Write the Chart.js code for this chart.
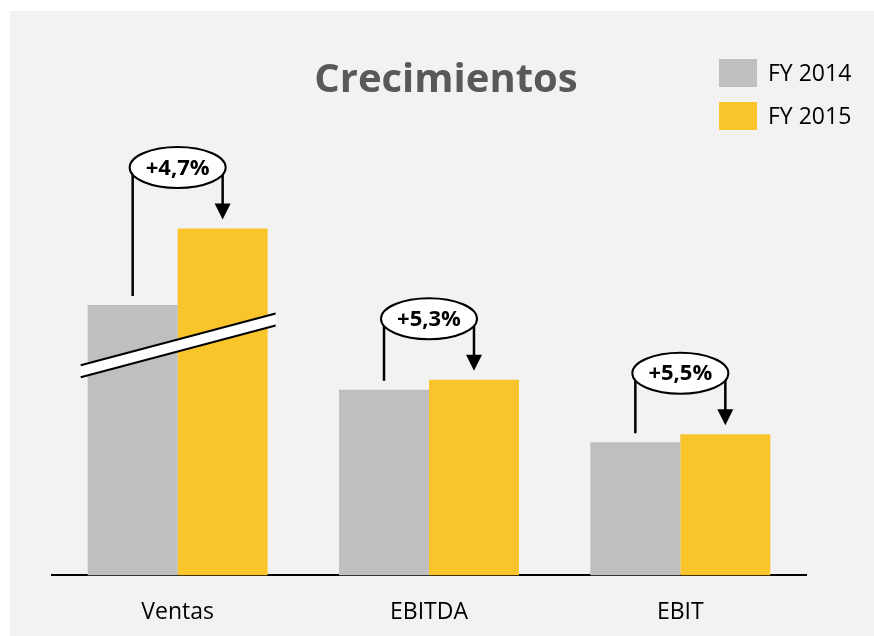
<!DOCTYPE html>
<html>
<head>
<meta charset="utf-8">
<script src="https://cdn.jsdelivr.net/npm/chart.js@4.4.1/dist/chart.umd.min.js"></script>
<style>
    html, body {
        margin: 0;
        padding: 0;
        background: #ffffff;
    }
    .chart-box {
        position: absolute;
        left: 10px;
        top: 11px;
        width: 864px;
        height: 625px;
        background: #f2f2f2;
    }
</style>
</head>
<body>
<div class="chart-box">
    <canvas id="growthChart"></canvas>
</div>
<script>
const categories = ['Ventas', 'EBITDA', 'EBIT'];
const seriesLabels = ['FY 2014', 'FY 2015'];
const fy2014 = [67, 46, 33];
const fy2015 = [86, 48.5, 35];
const growthLabels = ['+4,7%', '+5,3%', '+5,5%'];
const chartTitle = 'Crecimientos';

const GRAY = '#bfbfbf';
const YELLOW = '#f9c52b';

// corte del eje en la barra de Ventas
const axisBreak = {
    index: 0,
    value: 57,
    slope: -0.265,
    half: 6
};

const titleLegendPlugin = {
    id: 'titleLegend',
    afterDraw(chart) {
        const ctx = chart.ctx;
        ctx.save();

        ctx.fillStyle = '#595959';
        ctx.font = 'bold 40px "Open Sans"';
        ctx.textAlign = 'center';
        ctx.textBaseline = 'alphabetic';
        ctx.fillText(chartTitle, 436, 81);

        ctx.font = '23px "Open Sans"';
        ctx.textAlign = 'left';
        ctx.textBaseline = 'middle';

        chart.data.datasets.forEach((ds, i) => {
            const top = 48 + i * 43;
            ctx.fillStyle = ds.backgroundColor;
            ctx.fillRect(709, top, 38, 28);
            ctx.fillStyle = '#000000';
            ctx.fillText(ds.label, 758, top + 15);
        });

        ctx.restore();
    }
};

const growthPlugin = {
    id: 'growthMarks',
    afterDatasetsDraw(chart) {
        const ctx = chart.ctx;
        const prev = chart.getDatasetMeta(0).data;
        const curr = chart.getDatasetMeta(1).data;
        const xScale = chart.scales.x;
        const yScale = chart.scales.y;

        ctx.save();

        // corte
        const g0 = prev[axisBreak.index];
        const y0 = curr[axisBreak.index];
        const cx0 = xScale.getPixelForValue(axisBreak.index);
        const cy0 = yScale.getPixelForValue(axisBreak.value);
        const x1 = g0.x - g0.width / 2 - 7;
        const x2 = y0.x + y0.width / 2 + 8;
        const ya = cy0 + (x1 - cx0) * axisBreak.slope;
        const yb = cy0 + (x2 - cx0) * axisBreak.slope;

        ctx.fillStyle = '#ffffff';
        ctx.beginPath();
        ctx.moveTo(x1, ya - axisBreak.half);
        ctx.lineTo(x2, yb - axisBreak.half);
        ctx.lineTo(x2, yb + axisBreak.half);
        ctx.lineTo(x1, ya + axisBreak.half);
        ctx.closePath();
        ctx.fill();

        ctx.strokeStyle = '#000000';
        ctx.lineWidth = 2;
        ctx.beginPath();
        ctx.moveTo(x1, ya - axisBreak.half);
        ctx.lineTo(x2, yb - axisBreak.half);
        ctx.moveTo(x1, ya + axisBreak.half);
        ctx.lineTo(x2, yb + axisBreak.half);
        ctx.stroke();

        // flechas de crecimiento
        growthLabels.forEach((label, i) => {
            const g = prev[i];
            const y = curr[i];
            const cx = xScale.getPixelForValue(i);
            const ey = y.y - 61;

            ctx.strokeStyle = '#000000';
            ctx.lineWidth = 2.5;
            ctx.beginPath();
            ctx.moveTo(g.x, ey);
            ctx.lineTo(g.x, g.y - 9);
            ctx.moveTo(y.x, ey);
            ctx.lineTo(y.x, y.y - 24);
            ctx.stroke();

            ctx.fillStyle = '#000000';
            ctx.beginPath();
            ctx.moveTo(y.x - 8, y.y - 25);
            ctx.lineTo(y.x + 8, y.y - 25);
            ctx.lineTo(y.x, y.y - 9);
            ctx.closePath();
            ctx.fill();

            ctx.fillStyle = '#ffffff';
            ctx.lineWidth = 2;
            ctx.beginPath();
            ctx.ellipse(cx, ey, 48, 20.5, 0, 0, Math.PI * 2);
            ctx.fill();
            ctx.stroke();

            ctx.fillStyle = '#000000';
            ctx.font = 'bold 22px "Open Sans"';
            ctx.textAlign = 'center';
            ctx.textBaseline = 'middle';
            ctx.fillText(label, cx, ey + 1);
        });

        ctx.restore();
    }
};

const ctx = document.getElementById('growthChart').getContext('2d');

const growthChart = new Chart(ctx, {
    type: 'bar',
    data: {
        labels: categories,
        datasets: [{
            label: seriesLabels[0],
            data: fy2014,
            backgroundColor: GRAY,
            categoryPercentage: 0.716,
            barPercentage: 1.0
        }, {
            label: seriesLabels[1],
            data: fy2015,
            backgroundColor: YELLOW,
            categoryPercentage: 0.716,
            barPercentage: 1.0
        }]
    },
    options: {
        responsive: true,
        maintainAspectRatio: false,
        animation: false,
        layout: {
            padding: {
                left: 42,
                right: 68,
                top: 161,
                bottom: -13
            }
        },
        plugins: {
            legend: {
                display: false
            },
            title: {
                display: false
            },
            tooltip: {
                enabled: false
            }
        },
        scales: {
            x: {
                grid: {
                    display: false,
                    drawTicks: false
                },
                border: {
                    display: true,
                    color: '#000000',
                    width: 2
                },
                ticks: {
                    color: '#000000',
                    padding: 23,
                    font: {
                        family: 'Open Sans',
                        size: 23
                    }
                }
            },
            y: {
                display: false,
                min: 0,
                max: 100
            }
        }
    },
    plugins: [growthPlugin, titleLegendPlugin]
});
</script>
</body>
</html>
